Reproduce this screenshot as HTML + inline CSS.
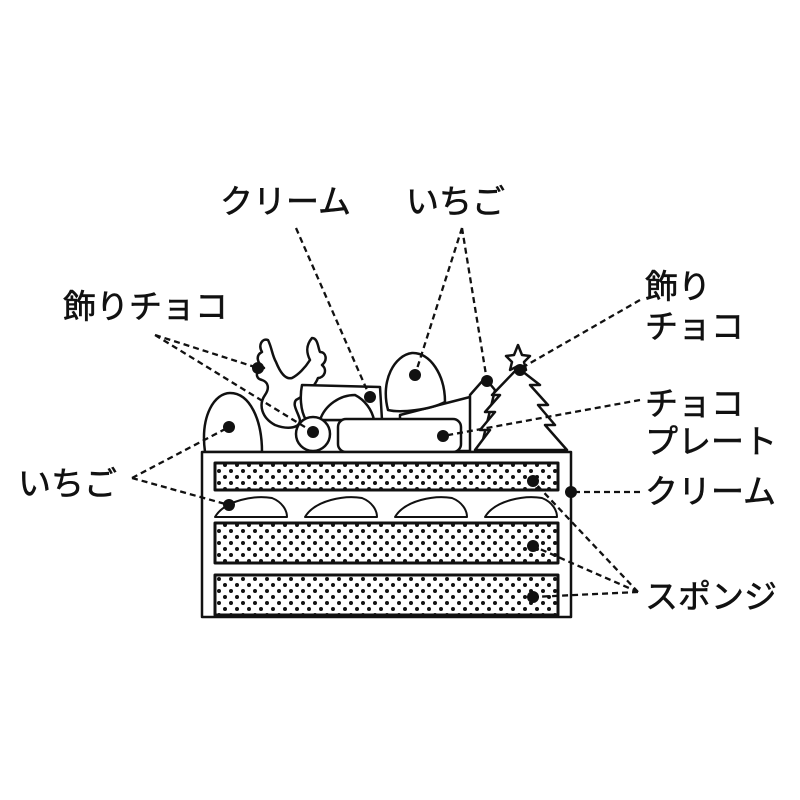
<!DOCTYPE html>
<html><head><meta charset="utf-8"><style>
body{margin:0;background:#fff}
svg{display:block}
text{font-family:"Liberation Sans","Noto Sans CJK JP",sans-serif;font-size:33px;fill:#111;stroke:#111;stroke-width:0.6}
</style></head><body>
<svg width="800" height="800" viewBox="0 0 800 800" xmlns="http://www.w3.org/2000/svg">
<defs>
<pattern id="dots" width="12" height="12" patternUnits="userSpaceOnUse">
<circle cx="3" cy="3" r="2" fill="#111"/><circle cx="9" cy="9" r="2" fill="#111"/>
</pattern>
</defs>
<g fill="#fff" stroke="#111" stroke-width="2.5" stroke-linejoin="round">
<path d="M275,425 C262,418 258,405 265,395 C270,388 268,382 262,380 C254,378 256,370 264,368 C256,362 256,355 262,352 C258,345 262,338 268,340 C272,348 272,355 276,362 C280,372 285,380 292,378 C298,375 305,368 310,360 C306,352 306,345 312,338 C318,338 318,348 320,352 C326,352 328,360 322,365 C328,370 324,378 318,378 C314,388 305,395 296,400 C292,405 298,412 300,420 C300,428 288,430 275,425Z"/>
<path d="M302,385 L380,387 L382,420 L306,420 C300,410 300,395 302,385Z"/>
<path d="M320,420 C325,405 340,395 355,395 C365,400 372,410 374,420Z"/>
<path d="M400,415 L470,397 C477,398 478,405 478,415 L478,451 L400,451Z"/>
<path d="M388,410 C380,380 395,355 412,353 C430,352 445,375 445,402 C430,410 400,413 388,410Z"/>
<path d="M470,395 L485,378 L495,390 L480,452 L470,452Z"/>
<path d="M518,345 L522,355 L530,356 L524,362 L526,370 L518,366 L510,370 L512,362 L506,356 L514,355Z"/>
<path d="M518,368 L540,385 L530,385 L548,405 L538,405 L555,425 L545,425 L567,450 L475,450 L490,430 L480,430 L495,412 L485,412 L500,395 L492,395 Z"/>
<path d="M205,452 C200,415 215,393 230,393 C250,393 262,420 262,452Z"/>
<circle cx="313" cy="434" r="17"/>
<rect x="338" y="419" width="123" height="33" rx="8"/>
<rect x="202" y="452" width="369" height="165" stroke-width="2.5"/>
<rect x="215" y="463" width="343" height="27" fill="url(#dots)" stroke-width="3"/>
<rect x="215" y="523" width="343" height="40" fill="url(#dots)" stroke-width="3"/>
<rect x="215" y="575" width="343" height="40" fill="url(#dots)" stroke-width="3"/>
<g stroke-width="2">
<path d="M215,517 C225,500 255,495 272,498 C282,502 287,510 287,517Z"/>
<path d="M305,517 C315,500 345,495 362,498 C372,502 377,510 377,517Z"/>
<path d="M395,517 C405,500 435,495 452,498 C462,502 467,510 467,517Z"/>
<path d="M485,517 C495,500 525,495 542,498 C552,502 557,510 557,517Z"/>
</g>
</g>
<g stroke="#111" stroke-width="2.3" stroke-dasharray="6,4" fill="none">
<path d="M296,228 L370,397"/>
<path d="M462,228 L415,375 M462,228 L487,381"/>
<path d="M155,335 L258,368 M155,335 L313,432"/>
<path d="M640,300 L518,370"/>
<path d="M640,400 L443,436"/>
<path d="M640,492 L571,492"/>
<path d="M638,592 L533,481 M638,592 L533,546 M638,592 L533,597"/>
<path d="M132,478 L229,427 M132,478 L229,505"/>
</g>
<g fill="#111">
<circle cx="370" cy="397" r="6"/><circle cx="415" cy="375" r="6"/><circle cx="487" cy="381" r="6"/>
<circle cx="258" cy="368" r="6"/><circle cx="313" cy="432" r="6"/><circle cx="520" cy="370" r="6"/>
<circle cx="443" cy="436" r="6"/><circle cx="571" cy="492" r="6"/><circle cx="533" cy="481" r="6"/>
<circle cx="533" cy="546" r="6"/><circle cx="533" cy="597" r="6"/><circle cx="229" cy="427" r="6"/>
<circle cx="229" cy="505" r="6"/>
</g>
<text x="220" y="213">クリーム</text>
<text x="406" y="213">いちご</text>
<text x="63" y="318">飾りチョコ</text>
<text x="645" y="298">飾り</text>
<text x="645" y="338">チョコ</text>
<text x="645" y="415">チョコ</text>
<text x="645" y="453">プレート</text>
<text x="645" y="503">クリーム</text>
<text x="645" y="608">スポンジ</text>
<text x="18" y="495">いちご</text>
</svg>
</body></html>
